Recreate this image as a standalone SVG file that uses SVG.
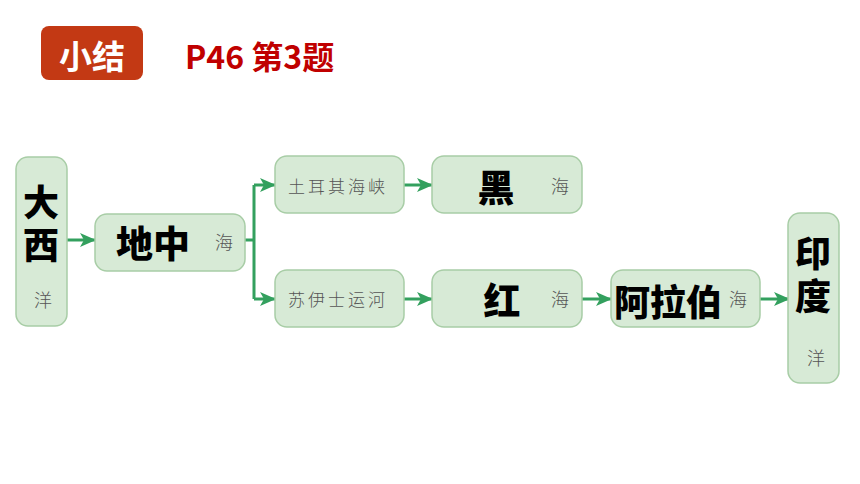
<svg xmlns="http://www.w3.org/2000/svg" width="860" height="484" viewBox="0 0 860 484">
<defs>
<marker id="ah" markerWidth="16" markerHeight="14" refX="15" refY="7" orient="auto" markerUnits="userSpaceOnUse">
<path d="M0,0 L16,7 L0,14 L4,7 Z" fill="#33A05E"/>
</marker>
</defs>
<style>
.box{fill:#D7EAD6;stroke:#A8CDA6;stroke-width:1.5}
.big{font-family:"Noto Sans CJK SC","Noto Sans",sans-serif;font-weight:900;fill:#000;text-anchor:middle;dominant-baseline:central}
.vert{font-family:"Noto Sans CJK SC","Noto Sans",sans-serif;font-weight:900;fill:#000;text-anchor:middle;writing-mode:vertical-rl}
.sm{font-family:"Noto Sans CJK SC","Noto Sans",sans-serif;font-weight:300;fill:#555;text-anchor:middle;dominant-baseline:central}
.ln{fill:none;stroke:#33A05E;stroke-width:3}
</style>
<rect width="860" height="484" fill="#FFFFFF"/>
<g id="title">
<rect x="41" y="26" width="102" height="54" rx="8" fill="#C33914"/>
<text x="92" y="55" font-family="Noto Sans CJK SC,sans-serif" font-weight="700" font-size="33" fill="#FFFFFF" text-anchor="middle" dominant-baseline="central">小结</text>
<text x="185" y="55" font-family="Noto Sans CJK SC,sans-serif" font-weight="700" font-size="32" fill="#C00000" dominant-baseline="central">P46 第3题</text>
</g>
<g id="connectors">
<line class="ln" x1="67" y1="240" x2="95" y2="240" marker-end="url(#ah)"/>
<path class="ln" d="M245,240 H254 M254,185 V299"/>
<line class="ln" x1="254" y1="185" x2="275" y2="185" marker-end="url(#ah)"/>
<line class="ln" x1="254" y1="299" x2="275" y2="299" marker-end="url(#ah)"/>
<line class="ln" x1="404" y1="185" x2="432" y2="185" marker-end="url(#ah)"/>
<line class="ln" x1="404" y1="299" x2="432" y2="299" marker-end="url(#ah)"/>
<line class="ln" x1="582" y1="299" x2="611" y2="299" marker-end="url(#ah)"/>
<line class="ln" x1="760" y1="299" x2="789" y2="299" marker-end="url(#ah)"/>
</g>
<g id="atlantic">
<rect class="box" x="16" y="157" width="51" height="169" rx="12"/>
<text class="vert" x="41" y="227" font-size="36" letter-spacing="7">大西</text>
<text class="sm" x="43" y="299" font-size="18">洋</text>
</g>
<g id="mediterranean">
<rect class="box" x="95" y="214" width="150" height="57" rx="12"/>
<text class="big" x="153" y="242" font-size="37">地中</text>
<text class="sm" x="224" y="241" font-size="18">海</text>
</g>
<g id="turkish-straits">
<rect class="box" x="275" y="156" width="129" height="57" rx="12"/>
<text class="sm" x="338" y="185" font-size="17" letter-spacing="3">土耳其海峡</text>
</g>
<g id="suez">
<rect class="box" x="275" y="270" width="129" height="57" rx="12"/>
<text class="sm" x="338" y="298" font-size="17" letter-spacing="3">苏伊士运河</text>
</g>
<g id="black-sea">
<rect class="box" x="432" y="156" width="150" height="57" rx="12"/>
<text class="big" x="496" y="186" font-size="37">黑</text>
<text class="sm" x="560" y="185" font-size="18">海</text>
</g>
<g id="red-sea">
<rect class="box" x="432" y="270" width="150" height="57" rx="12"/>
<text class="big" x="502" y="299" font-size="37">红</text>
<text class="sm" x="560" y="298" font-size="18">海</text>
</g>
<g id="arabian-sea">
<rect class="box" x="611" y="270" width="149" height="57" rx="12"/>
<text class="big" x="668" y="300" font-size="36">阿拉伯</text>
<text class="sm" x="738" y="298" font-size="18">海</text>
</g>
<g id="indian-ocean">
<rect class="box" x="788" y="213" width="51" height="170" rx="12"/>
<text class="vert" x="813" y="278" font-size="36" letter-spacing="7">印度</text>
<text class="sm" x="816" y="357" font-size="18">洋</text>
</g>
</svg>
